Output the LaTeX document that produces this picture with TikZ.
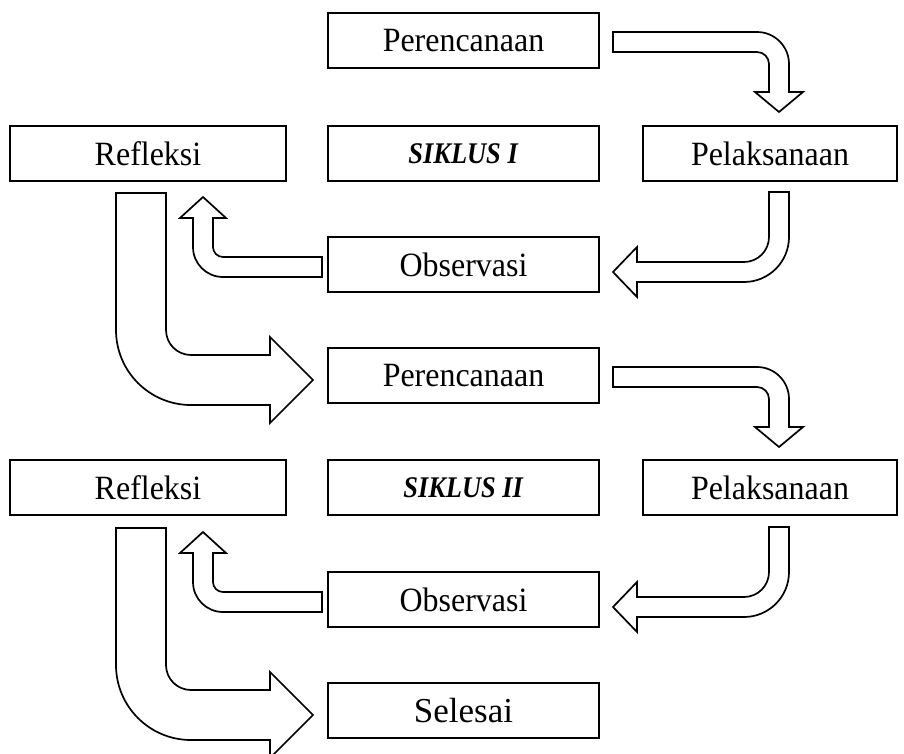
\documentclass[tikz,border=0pt]{standalone}
\usepackage{fontspec}
\setmainfont{Liberation Serif}
\begin{document}
\begin{tikzpicture}[x=1pt,y=-1pt,
  box/.style={draw=black,line width=2pt,fill=white,minimum height=55pt,inner sep=0pt},
  midbox/.style={box,minimum width=271pt},
  leftbox/.style={box,minimum width=276pt},
  rightbox/.style={box,minimum width=254pt},
  lbl/.style={font=\fontsize{34}{40}\selectfont},
  arr/.style={draw=black,line width=1.7pt,fill=white,line join=miter}]
\useasboundingbox (0,0) rectangle (904,753);
\clip (0,0) rectangle (904,753);
\newcommand{\sq}[1]{\scalebox{0.94}[1]{#1}}
\foreach \dy/\c in {0/I,335/II}{
\begin{scope}[yshift=-\dy pt]
% Perencanaan -> Pelaksanaan
\path[arr] (613,32) -- (757,32) arc[start angle=-90,end angle=0,radius=32] -- (789,92) -- (803,92) -- (779,112) -- (755,92) -- (769,92) -- (769,64) arc[start angle=0,end angle=-90,radius=12] -- (613,52) -- cycle;
% Pelaksanaan -> Observasi
\path[arr] (769,192) -- (789,192) -- (789,237) arc[start angle=0,end angle=90,radius=45] -- (637,282) -- (637,297) -- (613,272) -- (637,247) -- (637,262) -- (744,262) arc[start angle=90,end angle=0,radius=25] -- cycle;
% Observasi -> Refleksi
\path[arr] (322,257) -- (322,277) -- (223,277) arc[start angle=90,end angle=180,radius=30] -- (193,218) -- (180,218) -- (203,197) -- (226,218) -- (213,218) -- (213,247) arc[start angle=180,end angle=90,radius=10] -- cycle;
% Refleksi -> next
\path[arr] (116,193) -- (166,193) -- (166,330) arc[start angle=180,end angle=90,radius=25] -- (270,355) -- (270,337) -- (313,380) -- (270,423) -- (270,405) -- (191,405) arc[start angle=90,end angle=180,radius=75] -- cycle;
\end{scope}
}
% boxes
\node[midbox,lbl] (p1) at (463.5,40.5) {\sq{Perencanaan}};
\node[leftbox,lbl] (r1) at (148,153.5) {\sq{Refleksi}};
\node[midbox] (s1) at (463.5,153.5) {\fontsize{30}{36}\selectfont\scalebox{0.88}[1]{\textbf{\textit{SIKLUS I}}}};
\node[rightbox,lbl] (l1) at (770,153.5) {\sq{Pelaksanaan}};
\node[midbox,lbl] (o1) at (463.5,264.5) {\sq{Observasi}};
\node[midbox,lbl] (p2) at (463.5,375.5) {\sq{Perencanaan}};
\node[leftbox,lbl] (r2) at (148,487.5) {\sq{Refleksi}};
\node[midbox] (s2) at (463.5,487.5) {\fontsize{30}{36}\selectfont\scalebox{0.88}[1]{\textbf{\textit{SIKLUS II}}}};
\node[rightbox,lbl] (l2) at (770,487.5) {\sq{Pelaksanaan}};
\node[midbox,lbl] (o2) at (463.5,599.5) {\sq{Observasi}};
\node[midbox] (f) at (463.5,710.5) {\fontsize{35}{42}\selectfont Selesai};
\end{tikzpicture}
\end{document}
